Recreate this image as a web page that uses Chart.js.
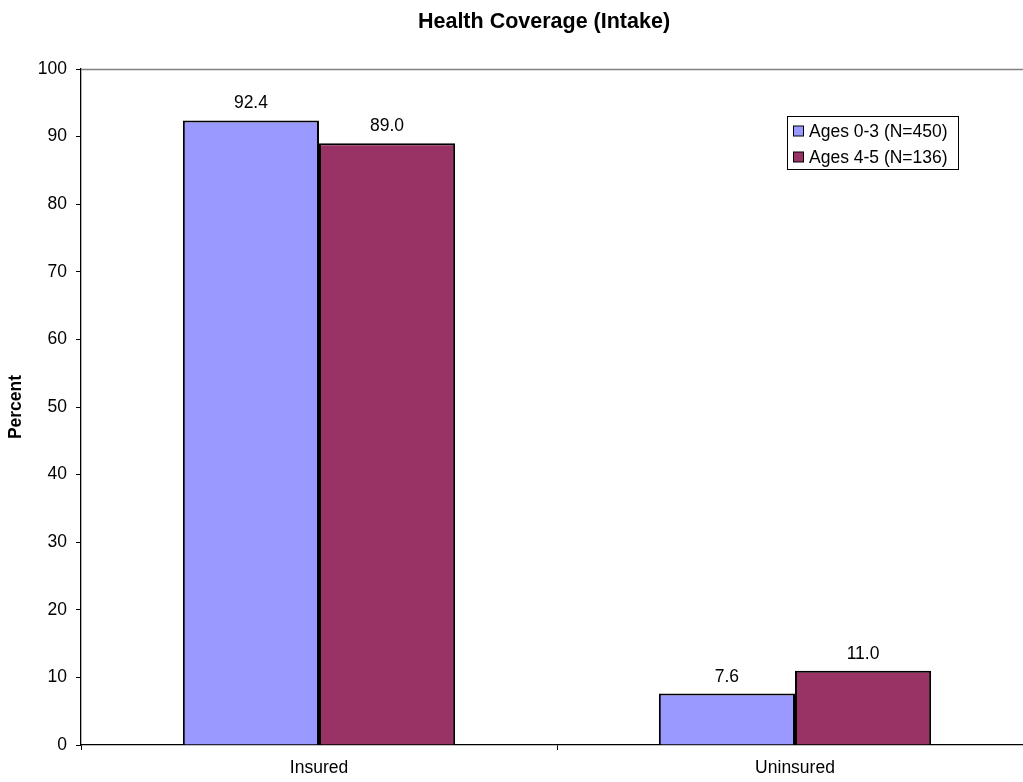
<!DOCTYPE html>
<html>
<head>
<meta charset="utf-8">
<title>Health Coverage (Intake)</title>
<script src="https://cdn.jsdelivr.net/npm/chart.js@4.4.1/dist/chart.umd.min.js"></script>
<style>
  html, body { margin: 0; padding: 0; background: #fff; overflow: hidden; }
  #wrap { width: 1088px; height: 782px; }
</style>
</head>
<body>
<div id="wrap"><canvas id="chart" width="1088" height="782"></canvas></div>
<script>
// Health coverage at intake, percent by age group
const categories = ['Insured', 'Uninsured'];
const seriesNames = ['Ages 0-3 (N=450)', 'Ages 4-5 (N=136)'];
const ages03 = [92.4, 7.6];
const ages45 = [89.0, 11.0];
const yTicks = [0, 10, 20, 30, 40, 50, 60, 70, 80, 90, 100];

const FONT = '"Liberation Sans", Arial, sans-serif';
const colors = ['#9999FF', '#993366'];

// value labels above each bar
const valueLabels = {
  id: 'valueLabels',
  afterDatasetsDraw(chart) {
    const ctx = chart.ctx;
    ctx.save();
    ctx.font = '17.5px ' + FONT;
    ctx.fillStyle = '#000';
    ctx.textAlign = 'center';
    ctx.textBaseline = 'alphabetic';
    chart.data.datasets.forEach((ds, i) => {
      chart.getDatasetMeta(i).data.forEach((bar, j) => {
        ctx.fillText(ds.data[j].toFixed(1), bar.x, bar.y - 12);
      });
    });
    ctx.restore();
  }
};

// plot frame (grey top and right edges)
const plotFrame = {
  id: 'plotFrame',
  beforeDatasetsDraw(chart) {
    const { ctx, chartArea: a } = chart;
    ctx.save();
    ctx.strokeStyle = '#808080';
    ctx.lineWidth = 1.5;
    ctx.beginPath();
    ctx.moveTo(a.left, a.top + 0.5);
    ctx.lineTo(a.right + 0.5, a.top + 0.5);
    ctx.lineTo(a.right + 0.5, a.bottom);
    ctx.stroke();
    ctx.restore();
  }
};

// boxed legend inside the plot area
const boxLegend = {
  id: 'boxLegend',
  afterDraw(chart) {
    const ctx = chart.ctx;
    const x0 = 787.5, y0 = 116.5, w = 171, h = 53;
    ctx.save();
    ctx.fillStyle = '#fff';
    ctx.fillRect(x0, y0, w, h);
    ctx.strokeStyle = '#000';
    ctx.lineWidth = 1;
    ctx.strokeRect(x0, y0, w, h);
    ctx.font = '17.5px ' + FONT;
    ctx.textAlign = 'left';
    ctx.textBaseline = 'middle';
    chart.data.datasets.forEach((ds, i) => {
      const cy = 131 + i * 26;
      ctx.fillStyle = ds.backgroundColor;
      ctx.fillRect(793.5, cy - 5, 10, 10);
      ctx.strokeStyle = '#000';
      ctx.strokeRect(793.5, cy - 5, 10, 10);
      ctx.fillStyle = '#000';
      ctx.fillText(ds.label, 809, cy + 1);
    });
    ctx.restore();
  }
};

new Chart(document.getElementById('chart'), {
  type: 'bar',
  data: {
    labels: categories,
    datasets: [
      { label: seriesNames[0], data: ages03, backgroundColor: colors[0], borderColor: '#000', borderWidth: 2,
        categoryPercentage: 0.572, barPercentage: 1.0 },
      { label: seriesNames[1], data: ages45, backgroundColor: colors[1], borderColor: '#000', borderWidth: 2,
        categoryPercentage: 0.572, barPercentage: 1.0 }
    ]
  },
  options: {
    responsive: false,
    animation: false,
    layout: { padding: 0 },
    plugins: {
      legend: { display: false },
      tooltip: { enabled: false },
      title: {
        display: true,
        text: 'Health Coverage (Intake)',
        color: '#000',
        font: { family: FONT, size: 21.5, weight: 'bold', lineHeight: 1.2 },
        padding: { top: 9, bottom: 34.2 }
      }
    },
    scales: {
      x: {
        grid: { display: true, drawOnChartArea: false, drawTicks: true, tickLength: 5, color: '#000', offset: true },
        border: { display: true, color: '#000', width: 1.3 },
        ticks: { color: '#000', font: { family: FONT, size: 17.5 }, padding: 8, maxRotation: 0 },
        afterFit(scale) { scale.height = 37; }
      },
      y: {
        min: 0,
        max: 100,
        afterBuildTicks(scale) { scale.ticks = yTicks.map(v => ({ value: v })); },
        grid: { display: true, drawOnChartArea: false, drawTicks: true, tickLength: 5, color: '#000' },
        border: { display: true, color: '#000', width: 1.3 },
        ticks: { color: '#000', font: { family: FONT, size: 17.5 }, padding: 9 },
        title: {
          display: true,
          text: 'Percent',
          color: '#000',
          font: { family: FONT, size: 17.5, weight: 'bold', lineHeight: 1.2 },
          padding: { top: 6, bottom: 0 }
        },
        afterFit(scale) { scale.width = 81; }
      },
      // empty margin on the right of the plot
      yMargin: {
        position: 'right',
        min: 0,
        max: 100,
        grid: { display: false },
        border: { display: false },
        ticks: { display: false },
        afterFit(scale) { scale.width = 55; }
      }
    }
  },
  plugins: [plotFrame, valueLabels, boxLegend]
});
</script>
</body>
</html>
